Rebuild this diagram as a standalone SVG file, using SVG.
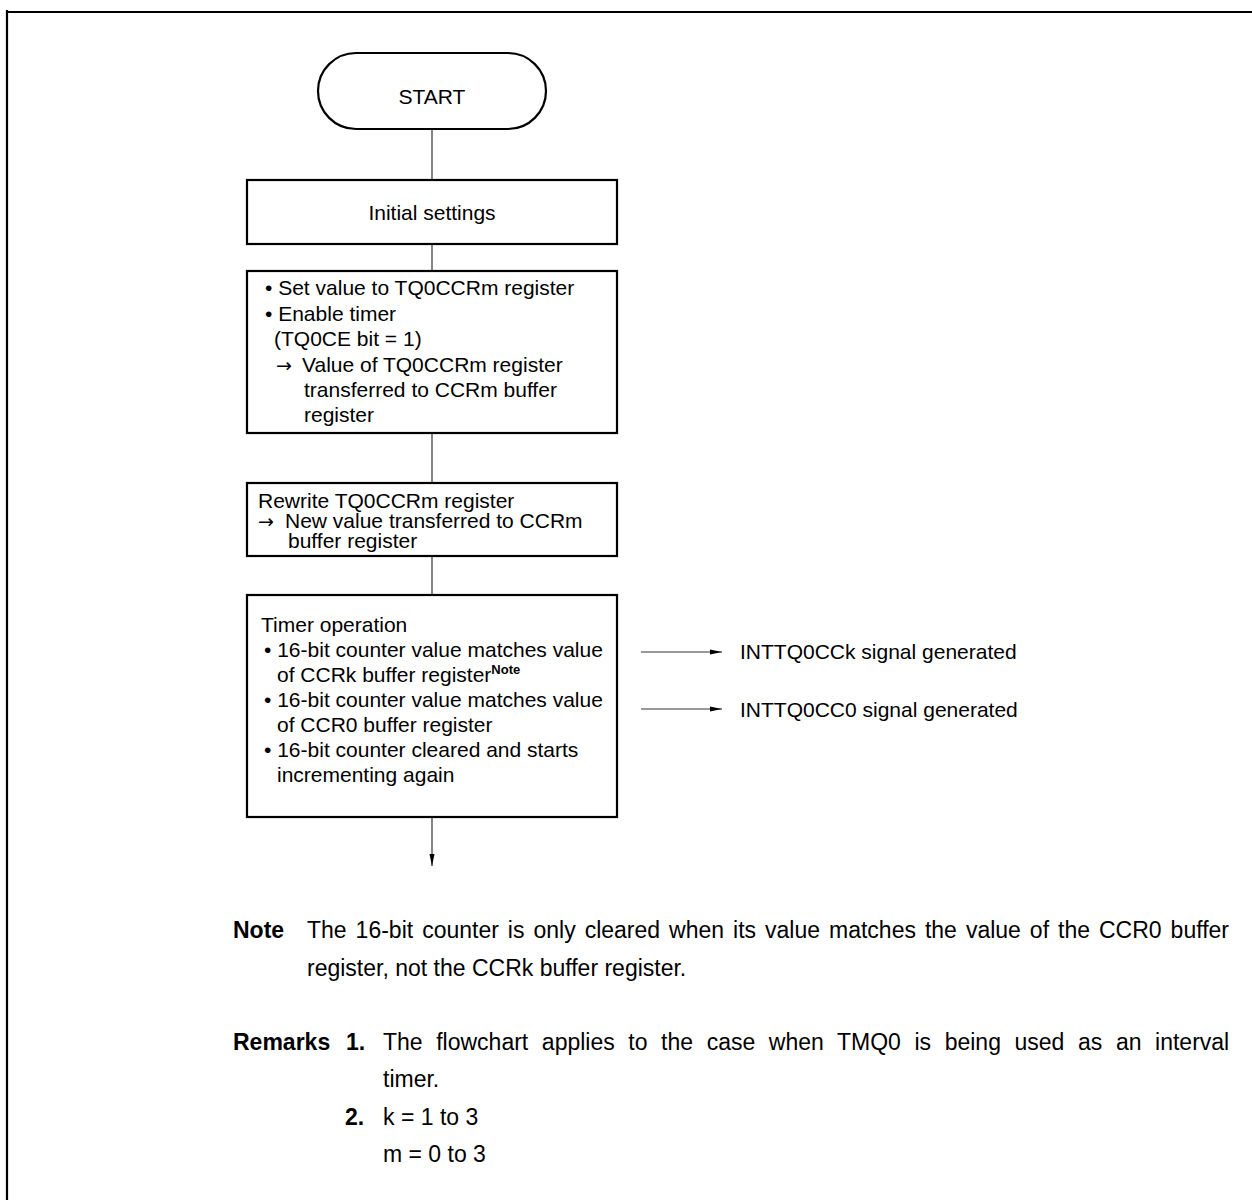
<svg xmlns="http://www.w3.org/2000/svg" width="1252" height="1200" viewBox="0 0 1252 1200">
<style>
text{font-family:"Liberation Sans",Arial,Helvetica,sans-serif;fill:#000}
.t{font-size:21px}
.n{font-size:23px}
.b{font-weight:bold}
.ar{font-family:"DejaVu Sans",sans-serif;font-size:19px}
.box{fill:#fff;stroke:#000;stroke-width:2.2}
.con{stroke:#333;stroke-width:1.2;fill:none}
.frame{stroke:#000;stroke-width:2.2;fill:none}
</style>
<defs>
<marker id="ah" markerUnits="userSpaceOnUse" markerWidth="13" markerHeight="6" refX="12" refY="3" orient="auto">
<path d="M0,0.5 L12,3 L0,5.5 z" fill="#000"/>
</marker>
</defs>
<path class="frame" d="M6,12 H1252 M7,10 V1200"/>
<g id="connectors">
<line class="con" x1="432" y1="129" x2="432" y2="180"/>
<line class="con" x1="432" y1="244" x2="432" y2="271"/>
<line class="con" x1="432" y1="433" x2="432" y2="483"/>
<line class="con" x1="432" y1="556" x2="432" y2="595"/>
<line class="con" x1="432" y1="817" x2="432" y2="866" marker-end="url(#ah)"/>
<line class="con" x1="641" y1="652" x2="722" y2="652" marker-end="url(#ah)"/>
<line class="con" x1="641" y1="709" x2="722" y2="709" marker-end="url(#ah)"/>
</g>
<g id="start">
<rect class="box" x="318" y="53" width="228" height="76" rx="38" ry="38"/>
<text class="t" x="432" y="104" text-anchor="middle">START</text>
</g>
<g id="initial">
<rect class="box" x="247" y="180" width="370" height="64"/>
<text class="t" x="432" y="220" text-anchor="middle">Initial settings</text>
</g>
<g id="setvalue">
<rect class="box" x="247" y="271" width="370" height="162"/>
<text class="t"><tspan x="265" y="295">• Set value to TQ0CCRm register</tspan><tspan x="265" y="321">• Enable timer</tspan><tspan x="274" y="346">(TQ0CE bit = 1)</tspan><tspan class="ar" x="276" y="372">→</tspan><tspan x="302" y="372">Value of TQ0CCRm register</tspan><tspan x="304" y="397">transferred to CCRm buffer</tspan><tspan x="304" y="422">register</tspan></text>
</g>
<g id="rewrite">
<rect class="box" x="247" y="483" width="370" height="73"/>
<text class="t"><tspan x="258" y="508">Rewrite TQ0CCRm register</tspan><tspan class="ar" x="258" y="528">→</tspan><tspan x="285" y="528">New value transferred to CCRm</tspan><tspan x="288" y="548">buffer register</tspan></text>
</g>
<g id="timerop">
<rect class="box" x="247" y="595" width="370" height="222"/>
<text class="t"><tspan x="261" y="632">Timer operation</tspan><tspan x="264" y="657">• 16-bit counter value matches value</tspan><tspan x="277" y="682">of CCRk buffer register</tspan><tspan class="b" font-size="13" dy="-8">Note</tspan><tspan x="264" y="707">• 16-bit counter value matches value</tspan><tspan x="277" y="732">of CCR0 buffer register</tspan><tspan x="264" y="757">• 16-bit counter cleared and starts</tspan><tspan x="277" y="782">incrementing again</tspan></text>
</g>
<g id="sig-k">
<text class="t" x="740" y="659">INTTQ0CCk signal generated</text>
</g>
<g id="sig-0">
<text class="t" x="740" y="717">INTTQ0CC0 signal generated</text>
</g>
<g id="notes">
<text class="n b" x="233" y="938">Note</text>
<text class="n" x="307" y="938" word-spacing="2.6">The 16-bit counter is only cleared when its value matches the value of the CCR0 buffer</text>
<text class="n" x="307" y="976">register, not the CCRk buffer register.</text>
<text class="n b" x="233" y="1050">Remarks</text>
<text class="n b" x="346" y="1050">1.</text>
<text class="n" x="383" y="1050" word-spacing="7.2">The flowchart applies to the case when TMQ0 is being used as an interval</text>
<text class="n" x="383" y="1087">timer.</text>
<text class="n b" x="345" y="1125">2.</text>
<text class="n" x="383" y="1125">k = 1 to 3</text>
<text class="n" x="383" y="1162">m = 0 to 3</text>
</g>
</svg>
